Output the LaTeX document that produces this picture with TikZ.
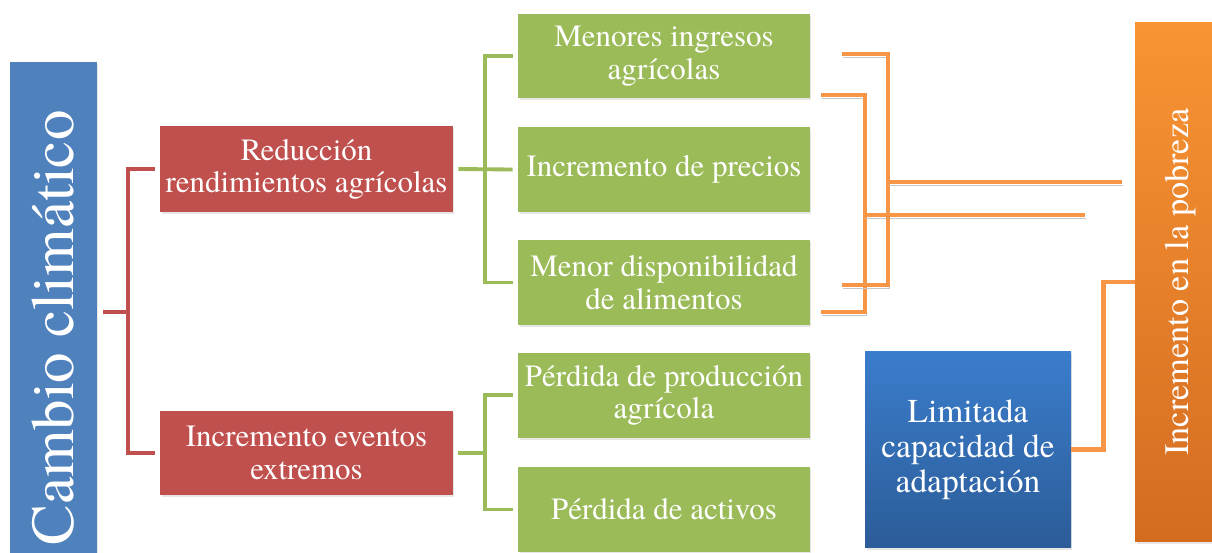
\documentclass[tikz,border=0pt]{standalone}
\usepackage{fontspec}
\newfontfamily\serifcaja{texgyretermes-regular.otf}
\usetikzlibrary{calc,shadows}

\definecolor{azulcc}{RGB}{79,129,189}
\definecolor{rojo}{RGB}{192,80,77}
\definecolor{verde}{RGB}{155,187,89}
\definecolor{naranja}{RGB}{247,150,70}
\definecolor{naranjaarriba}{RGB}{248,148,52}
\definecolor{naranjaabajo}{RGB}{212,108,32}
\definecolor{azularriba}{RGB}{58,125,204}
\definecolor{azulabajo}{RGB}{44,92,152}

\tikzset{
  caja/.style={rectangle, text=white, align=center, inner sep=0pt,
    font=\serifcaja\fontsize{17.6}{18.4}\selectfont,
    drop shadow={opacity=0.2, shadow xshift=0.03cm, shadow yshift=-0.04cm}},
  cajaroja/.style={caja, fill=rojo, minimum width=5.86cm, minimum height=1.72cm},
  cajaverde/.style={caja, fill=verde, minimum width=5.84cm, minimum height=1.7cm},
  ramaroja/.style={draw=rojo, line width=2.2pt},
  ramaverde/.style={draw=verde, line width=2.2pt},
  ramanaranja/.style={draw=naranja, line width=2.8pt},
  sombranaranja/.style={ramanaranja,
    preaction={draw=black!22, transform canvas={xshift=0.02cm, yshift=-0.06cm}}},
}

\begin{document}
\begin{tikzpicture}[x=0.02cm,y=-0.02cm]
  \useasboundingbox (0,0) rectangle (1212,552);
  \node [caja, fill=azulcc, minimum width=1.74cm, minimum height=10.64cm,
    font=\serifcaja\fontsize{34.7}{36}\selectfont] (cc) at (53.5,328)
    {\rotatebox{90}{Cambio climático}};
  \node [cajaroja] (rr) at (306.5,169) {Reducción\\rendimientos agrícolas};
  \node [cajaroja, minimum height=1.68cm] (ie) at (306.5,453)
    {Incremento eventos\\extremos};
  \node [cajaverde] (g1) at (664,56) {Menores ingresos\\agrícolas};
  \node [cajaverde] (g2) at (664,169.5) {Incremento de precios};
  \node [cajaverde] (g3) at (664,282.5) {Menor disponibilidad\\de alimentos};
  \node [cajaverde] (g4) at (664,395) {Pérdida de producción\\agrícola};
  \node [cajaverde] (g5) at (664,509.5) {Pérdida de activos};
  \node [caja, top color=azularriba, bottom color=azulabajo,
    minimum width=4.12cm, minimum height=3.94cm,
    font=\serifcaja\fontsize{19}{20}\selectfont] (lc) at (968,449.5)
    {Limitada\\capacidad de\\adaptación};
  \node [caja, top color=naranjaarriba, bottom color=naranjaabajo,
    minimum width=1.8cm, minimum height=10.4cm,
    font=\serifcaja\fontsize{19.5}{20}\selectfont] (ip) at (1180,282)
    {\rotatebox{90}{Incremento en la pobreza}};

  \coordinate (A0) at (842,54);
  \coordinate (A1) at (888,54);
  \coordinate (A2) at (888,285);
  \coordinate (A3) at (842,285);
  \coordinate (A4) at (888,182);
  \coordinate (A5) at (1122,182);
  \coordinate (B0) at (821,95);
  \coordinate (B1) at (865,95);
  \coordinate (B2) at (865,312);
  \coordinate (B3) at (821,312);
  \coordinate (B4) at (865,215);
  \coordinate (B5) at (1085,215);

  \draw [ramaroja] ([xshift=0.12cm]cc.east |- 0,312)
    -| ([xshift=-0.64cm]rr.west) -- ([xshift=-0.1cm]rr.west);
  \draw [ramaroja] ([xshift=-0.64cm]rr.west)
    |- ([xshift=-0.1cm]ie.west);

  \draw [ramaverde] ([xshift=0.1cm]rr.east) -- ([xshift=-0.1cm]g2.west);
  \draw [ramaverde] ([xshift=-0.1cm]g1.west)
    -| ([xshift=-0.66cm]g3.west) -- ([xshift=-0.1cm]g3.west);
  \draw [ramaverde] ([xshift=0.1cm]ie.east)
    -- ([xshift=-0.66cm]ie.east -| g4.west);
  \draw [ramaverde] ([xshift=-0.1cm]g4.west)
    -| ([xshift=-0.66cm]g5.west) -- ([xshift=-0.1cm]g5.west);

  \draw [sombranaranja] (B0) -- (B1) -- (B2) -- (B3);
  \draw [sombranaranja] (B4) -- (B5);
  \draw [sombranaranja] (A0) -- (A1) -- (A2) -- (A3);
  \draw [sombranaranja] (A4) -- (A5);

  \draw [ramanaranja] (lc.east) -- ++(32,0) |- (ip.west);
\end{tikzpicture}
\end{document}
